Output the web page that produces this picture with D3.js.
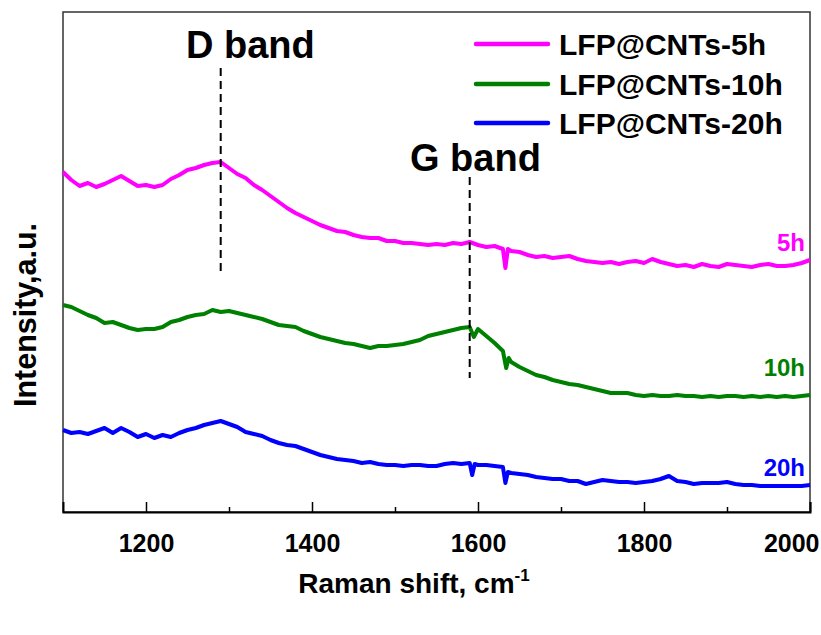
<!DOCTYPE html>
<html>
<head>
<meta charset="utf-8">
<script src="https://cdn.jsdelivr.net/npm/d3@7"></script>
<style>
  html, body { margin: 0; padding: 0; background: #fff; }
  text { font-family: "Liberation Sans", Arial, sans-serif; font-weight: bold; }
</style>
</head>
<body>
<svg id="chart" width="821" height="635"></svg>
<script>
// ---------- data ----------
const shift = d3.range(1100, 2001, 10); // Raman shift grid, cm-1
const seriesNames = ["LFP@CNTs-5h", "LFP@CNTs-10h", "LFP@CNTs-20h"];
const shortNames = ["5h", "10h", "20h"];
const colors = ["#ff00ff", "#008000", "#0000ff"];

const int5h = [340,332,326,329,325,328,332,336,331,326,327,325,327,333,337,342,344,347,349,350,
  344,338,334,327,322,316,310,304,299,295,291,287,284,281,280,277,275,274,274,271,
  271,269,269,268,267,268,267,269,268,270,267,265,266,263,261,260,257,255,256,254,
  255,256,253,251,250,249,250,248,250,251,249,253,250,248,246,247,245,248,246,245,
  248,247,246,245,247,248,246,246,247,249,252];
const int10h = [207,205,201,197,194,189,190,187,184,182,183,183,185,190,192,195,197,198,202,200,
  201,199,197,195,193,190,187,186,185,181,178,175,173,171,169,168,166,164,166,166,
  167,168,170,172,176,178,180,182,184,185,183,176,169,161,150,145,141,137,135,132,
  130,128,127,125,123,121,119,119,119,117,116,117,116,116,117,116,116,115,116,115,
  116,116,115,116,115,116,115,116,115,116,117];
const int20h = [82,79,80,78,81,84,79,84,80,75,78,74,77,75,79,82,84,87,89,91,
  88,85,80,78,76,72,69,67,66,63,60,57,55,53,52,51,49,50,48,47,
  47,46,47,47,46,46,48,49,48,49,47,47,46,45,39,38,37,35,34,33,
  33,31,31,28,30,32,31,30,30,29,30,31,33,36,31,30,28,29,29,29,
  30,28,27,27,26,26,26,26,26,26,27];
// narrow spikes between grid points: [shift, intensity]
const spikes5h = [[1633, 244], [1636, 263]];
const spikes10h = [[1595, 175], [1634, 144], [1637, 154]];
const spikes20h = [[1593, 37], [1596, 48], [1633, 29], [1636, 40]];

const bandNames = ["D band", "G band"];
const bandShift = [1290, 1590];
const bandTop = [444, 335];     // intensity at top of dashed line
const bandBottom = [236, 134];  // intensity at bottom of dashed line

const majorTicks = [1200, 1400, 1600, 1800, 2000];
const minorTicks = [1300, 1500, 1700, 1900];

// ---------- layout ----------
const svg = d3.select("#chart");
const margin = {left: 63, right: 11, top: 12, bottom: 123};
const W = 821, H = 635;
const x = d3.scaleLinear().domain([1100, 2000]).range([margin.left, W - margin.right]);
const y = d3.scaleLinear().domain([0, 500]).range([H - margin.bottom, margin.top]);

function build(vals, spk) {
  const pts = shift.map((s, i) => [s, vals[i]]).concat(spk);
  return pts.sort((a, b) => a[0] - b[0]);
}
const series = [build(int5h, spikes5h), build(int10h, spikes10h), build(int20h, spikes20h)];

// frame
svg.append("rect")
  .attr("x", x(1100)).attr("y", y(500))
  .attr("width", x(2000) - x(1100)).attr("height", y(0) - y(500))
  .attr("fill", "none").attr("stroke", "#333").attr("stroke-width", 1.5);

// curves
const line = d3.line().x(d => x(d[0])).y(d => y(d[1]));
series.forEach((s, i) => {
  svg.append("path").datum(s)
    .attr("d", line)
    .attr("fill", "none")
    .attr("stroke", colors[i])
    .attr("stroke-width", 4)
    .attr("stroke-linejoin", "round");
});

// bottom axis
const gx = svg.append("g").attr("transform", `translate(0,${y(0)})`);
gx.call(d3.axisBottom(x).tickValues(majorTicks).tickSize(-10).tickPadding(22).tickFormat(d3.format("d")));
gx.select(".domain").attr("stroke", "#000").attr("stroke-width", 2);
gx.selectAll(".tick line").attr("stroke", "#000").attr("stroke-width", 1.5);
gx.selectAll(".tick text")
  .attr("font-size", 25).attr("font-weight", "bold").attr("fill", "#000")
  .attr("font-family", "Liberation Sans, Arial, sans-serif")
  .filter(d => d === 2000)
  .attr("text-anchor", "end").attr("x", 9);
const gm = svg.append("g").attr("transform", `translate(0,${y(0)})`);
gm.call(d3.axisBottom(x).tickValues(minorTicks).tickSize(-5).tickFormat(""));
gm.select(".domain").remove();
gm.selectAll(".tick line").attr("stroke", "#000").attr("stroke-width", 1.5);

// axis titles
const xt = svg.append("text")
  .attr("x", 414).attr("y", 593)
  .attr("text-anchor", "middle").attr("font-size", 28).attr("fill", "#000");
xt.append("tspan").text("Raman shift, cm");
xt.append("tspan").attr("font-size", 17).attr("dy", -12).text("-1");

svg.append("text")
  .attr("transform", `translate(36,${(y(0) + y(500)) / 2 + 53}) rotate(-90)`)
  .attr("text-anchor", "middle").attr("font-size", 30.5).attr("fill", "#000")
  .text("Intensity,a.u.");

// band markers
bandShift.forEach((b, i) => {
  svg.append("line")
    .attr("x1", x(b)).attr("x2", x(b))
    .attr("y1", y(bandTop[i])).attr("y2", y(bandBottom[i]))
    .attr("stroke", "#000").attr("stroke-width", 2).attr("stroke-dasharray", "8,5");
});
svg.append("text").attr("x", 186).attr("y", 58).attr("font-size", 38).attr("fill", "#000").text(bandNames[0]);
svg.append("text").attr("x", 410).attr("y", 171).attr("font-size", 38).attr("fill", "#000").text(bandNames[1]);

// series end labels
const endLabelY = [251, 376, 476];
shortNames.forEach((n, i) => {
  svg.append("text").attr("x", 805).attr("y", endLabelY[i])
    .attr("text-anchor", "end").attr("font-size", 24).attr("fill", colors[i]).text(n);
});

// legend
const legY = [44, 84, 123];
seriesNames.forEach((n, i) => {
  svg.append("line").attr("x1", 476).attr("x2", 548).attr("y1", legY[i]).attr("y2", legY[i])
    .attr("stroke", colors[i]).attr("stroke-width", 4.5).attr("stroke-linecap", "round");
  svg.append("text").attr("x", 559).attr("y", legY[i] + 11)
    .attr("font-size", 30).attr("fill", "#000").text(n);
});
</script>
</body>
</html>
